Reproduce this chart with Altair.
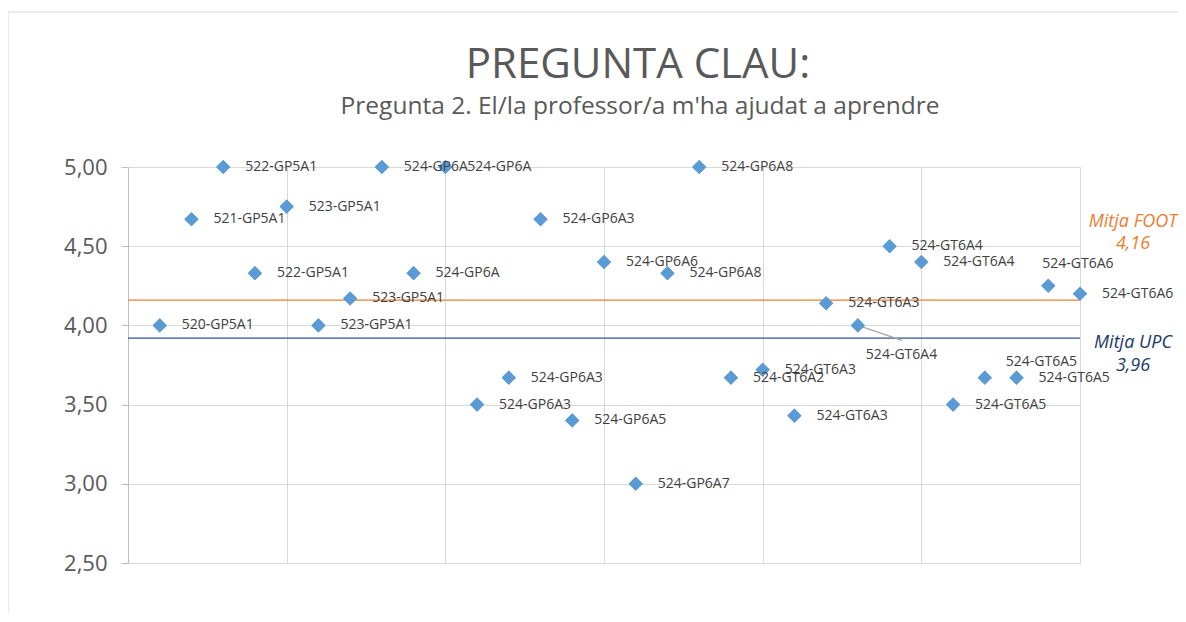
import altair as alt
import pandas as pd

# ---- data ----
ids = list(range(1, 31))
labels = ["520-GP5A1", "521-GP5A1", "522-GP5A1", "522-GP5A1", "523-GP5A1",
          "523-GP5A1", "523-GP5A1", "524-GP6A", "524-GP6A", "524-GP6A",
          "524-GP6A3", "524-GP6A3", "524-GP6A3", "524-GP6A5", "524-GP6A6",
          "524-GP6A7", "524-GP6A8", "524-GP6A8", "524-GT6A2", "524-GT6A3",
          "524-GT6A3", "524-GT6A3", "524-GT6A4", "524-GT6A4", "524-GT6A4",
          "524-GT6A5", "524-GT6A5", "524-GT6A5", "524-GT6A6", "524-GT6A6"]
values = [4.00, 4.67, 5.00, 4.33, 4.75, 4.00, 4.17, 5.00, 4.33, 5.00,
          3.50, 3.67, 4.67, 3.40, 4.40, 3.00, 4.33, 5.00, 3.67, 3.72,
          3.43, 4.14, 4.00, 4.50, 4.40, 3.50, 3.67, 3.67, 4.25, 4.20]

mean_names = ["Mitja FOOT", "Mitja UPC"]
mean_lines = [4.16, 3.92]
mean_labels = ["4,16", "3,96"]
mean_colors = ["#ED7D31", "#2F5597"]

y_ticks = [2.5, 3.0, 3.5, 4.0, 4.5, 5.0]
x_ticks = [0, 5, 10, 15, 20, 25, 30]

title_text = "PREGUNTA CLAU:"
subtitle_text = "Pregunta 2. El/la professor/a m'ha ajudat a aprendre"

FONT = "Open Sans"
W, H = 952, 396

df = pd.DataFrame({"id": ids, "label": labels, "value": values})
one = pd.DataFrame({"k": [0]})  # single row for annotations drawn once

x = alt.X("id:Q", scale=alt.Scale(domain=[0, 30], nice=False, zero=False),
          axis=alt.Axis(values=x_ticks, labels=False, ticks=False, title=None,
                        grid=True, gridColor="#D9D9D9", domainColor="#D9D9D9"))
y = alt.Y("value:Q", scale=alt.Scale(domain=[2.5, 5.0], nice=False, zero=False),
          axis=alt.Axis(values=y_ticks, title=None, grid=True, gridColor="#D9D9D9",
                        domainColor="#BFBFBF", tickColor="#BFBFBF", tickSize=7,
                        labelPadding=14, labelFontSize=22, labelFont=FONT,
                        labelFontWeight=400,
                        labelColor="#595959",
                        labelExpr="replace(format(datum.value, '.2f'), '.', ',')"))

base = alt.Chart(df)

# frame of the chart (Excel chart border)
frame_left = alt.Chart(one).mark_rule(color="#D9D9D9", strokeWidth=1).encode(
    x=alt.value(-120), y=alt.value(-155), y2=alt.value(H + 90))
frame_top = alt.Chart(one).mark_rule(color="#D9D9D9", strokeWidth=1).encode(
    x=alt.value(-120), x2=alt.value(W + 110), y=alt.value(-155))

mdf = pd.DataFrame({"name": mean_names, "v": mean_lines, "lab": mean_labels,
                    "c": mean_colors})
mean_rules = alt.Chart(mdf).mark_rule(strokeWidth=1.3, x2Offset=5).encode(
    y=alt.Y("v:Q"),
    color=alt.Color("c:N", scale=None, legend=None))

points = base.mark_point(shape="diamond", filled=True, size=200, opacity=1,
                         color="#5B9BD5").encode(x=x, y=y)

lab_kw = dict(font=FONT, fontSize=14, fontWeight=400, color="#404040",
              align="left", baseline="middle")
labels_default = base.transform_filter("indexof([23, 27, 29], datum.id) < 0").mark_text(
    dx=22, **lab_kw).encode(x="id:Q", y="value:Q", text="label:N")
label_23 = base.transform_filter("datum.id == 23").mark_text(
    dx=8, dy=30, **lab_kw).encode(x="id:Q", y="value:Q", text="label:N")
label_27 = base.transform_filter("datum.id == 27").mark_text(
    dx=21, dy=-16, **lab_kw).encode(x="id:Q", y="value:Q", text="label:N")
label_29 = base.transform_filter("datum.id == 29").mark_text(
    dx=-6, dy=-22, **lab_kw).encode(x="id:Q", y="value:Q", text="label:N")
leader_23 = base.transform_filter("datum.id == 23").mark_rule(
    color="#A6A6A6", strokeWidth=1.3, x2Offset=44, y2Offset=15).encode(
    x="id:Q", x2="id:Q", y="value:Q", y2="value:Q")

title = alt.Chart(one).mark_text(font=FONT, fontSize=42, fontWeight=400, color="#595959",
                                 align="center", baseline="middle").encode(
    x=alt.value(510), y=alt.value(-102), text=alt.value(title_text))
subtitle = alt.Chart(one).mark_text(font=FONT, fontSize=24.5, fontWeight=400, color="#595959",
                                    align="center", baseline="middle").encode(
    x=alt.value(512), y=alt.value(-60), text=alt.value(subtitle_text))

ann_kw = dict(font=FONT, fontSize=18, fontWeight=400, fontStyle="italic",
              align="center", baseline="middle")
foot_name = alt.Chart(one).mark_text(color=mean_colors[0], **ann_kw).encode(
    x=alt.value(1005), y=alt.value(55), text=alt.value(mean_names[0]))
foot_val = alt.Chart(one).mark_text(color=mean_colors[0], **ann_kw).encode(
    x=alt.value(1005), y=alt.value(77), text=alt.value(mean_labels[0]))
upc_name = alt.Chart(one).mark_text(color="#203864", **ann_kw).encode(
    x=alt.value(1005), y=alt.value(176), text=alt.value(mean_names[1]))
upc_val = alt.Chart(one).mark_text(color="#203864", **ann_kw).encode(
    x=alt.value(1005), y=alt.value(199), text=alt.value(mean_labels[1]))

chart = alt.layer(
    points, mean_rules, leader_23, points,
    labels_default, label_23, label_27, label_29,
    frame_left, frame_top, title, subtitle,
    foot_name, foot_val, upc_name, upc_val,
).properties(
    width=W, height=H,
    autosize=alt.AutoSizeParams(type="none"),
    padding={"left": 120, "top": 159, "right": 98, "bottom": 50},
    background="white",
).configure_view(stroke=None)

chart.save("out.html", embed_options={"renderer": "svg", "actions": False})
